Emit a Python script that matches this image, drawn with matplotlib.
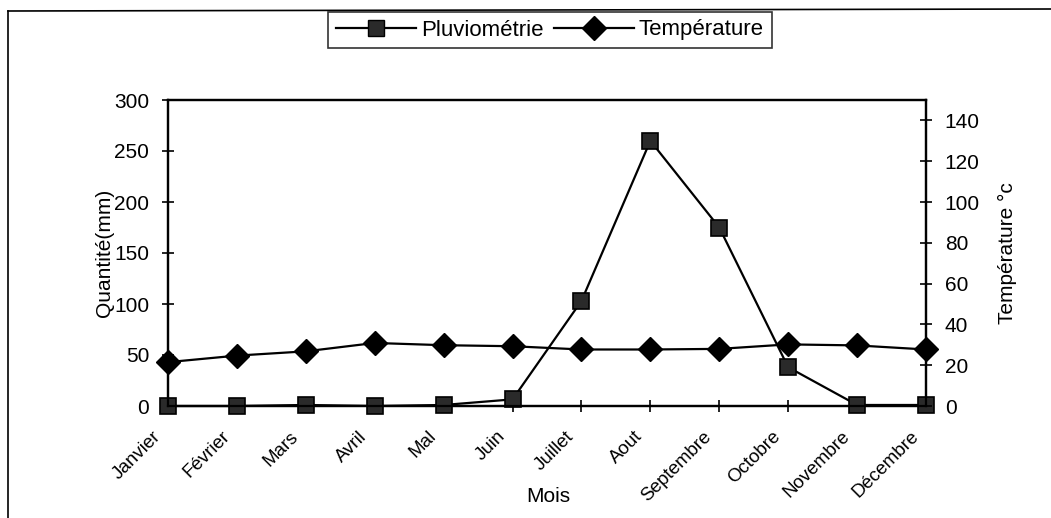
import matplotlib
matplotlib.use("Agg")
import matplotlib.pyplot as plt
from matplotlib.lines import Line2D
from matplotlib.transforms import ScaledTranslation, blended_transform_factory

plt.rcParams['font.family'] = ['Liberation Sans', 'DejaVu Sans']

mois = ["Janvier", "Février", "Mars", "Avril", "Mal", "Juin", "Juillet",
        "Aout", "Septembre", "Octobre", "Novembre", "Décembre"]
pluviometrie = [0, 0, 1, 0, 1, 6.5, 103, 260, 175, 38, 1, 1]
temperature = [21.5, 24.7, 26.8, 30.9, 29.8, 29.3, 27.7, 27.7, 28.0, 30.2, 29.7, 27.7]
left_ticks = [0, 50, 100, 150, 200, 250, 300]
right_ticks = [0, 20, 40, 60, 80, 100, 120, 140]

fig = plt.figure(figsize=(10.51, 5.18), dpi=100)
ax = fig.add_axes([168/1051, 1-406/518, (926-168)/1051, (406-100)/518])
ax2 = ax.twinx()

x = list(range(len(mois)))
ax.plot(x, pluviometrie, color='black', lw=1.6, marker='s', ms=12,
        mfc='#2a2a2a', mec='black', mew=1.2, zorder=3, clip_on=False)
ax2.plot(x, temperature, color='black', lw=1.6, marker='D', ms=12,
         mfc='black', mec='black', zorder=3, clip_on=False)

ax.set_xlim(0, len(mois) - 1)
ax.set_ylim(0, 300)
ax2.set_ylim(0, 150)
ax.set_yticks(left_ticks)
ax2.set_yticks(right_ticks)
ax.set_xticks(x)
ax.set_xticklabels([])

# rotated month labels (Excel-like placement)
trans = blended_transform_factory(ax.transData, ax.transAxes) + \
    ScaledTranslation(-16/100, -22/100, fig.dpi_scale_trans)
for i, m in enumerate(mois):
    ax.text(i, 0, m, transform=trans, rotation=45, ha='right', va='top',
            rotation_mode='anchor', fontsize=13.5, clip_on=False)

for a in (ax, ax2):
    for s in a.spines.values():
        s.set_linewidth(1.6)
        s.set_color('black')
ax.tick_params(axis='y', direction='inout', length=9, width=1.2, labelsize=15, pad=9)
ax2.tick_params(axis='y', direction='inout', length=9, width=1.2, labelsize=15, pad=9)
ax.tick_params(axis='x', direction='inout', length=9, width=1.2, pad=8)

ax.set_ylabel("Quantité(mm)", fontsize=15, labelpad=0)
ax2.set_ylabel("Température °c", fontsize=15, labelpad=13)
ax.set_xlabel("Mois", fontsize=15, va='center')
ax.xaxis.set_label_coords((548-168)/(926-168), -(497-406)/(406-100))

# figure frame (scanned chart border)
fig.add_artist(Line2D([8/1051, 1.0], [1-11/518, 1-9/518], transform=fig.transFigure,
                      color='black', lw=1.2))
fig.add_artist(Line2D([8/1051, 8/1051], [1-11/518, 0], transform=fig.transFigure,
                      color='black', lw=1.2))

handles = [
    Line2D([], [], color='black', lw=1.6, marker='s', ms=12, mfc='#2a2a2a', mec='black'),
    Line2D([], [], color='black', lw=1.6, marker='D', ms=12, mfc='black', mec='black'),
]
leg = fig.legend(handles, ["Pluviométrie", "Température"], loc='center',
                 bbox_to_anchor=(550/1051, 1-30/518), ncol=2, frameon=True,
                 fancybox=False, edgecolor='black', fontsize=16,
                 handlelength=3.6, handletextpad=0.2, columnspacing=0.5,
                 borderpad=0.35)
leg.get_frame().set_linewidth(1.2)

fig.savefig("out.png", dpi=100)
